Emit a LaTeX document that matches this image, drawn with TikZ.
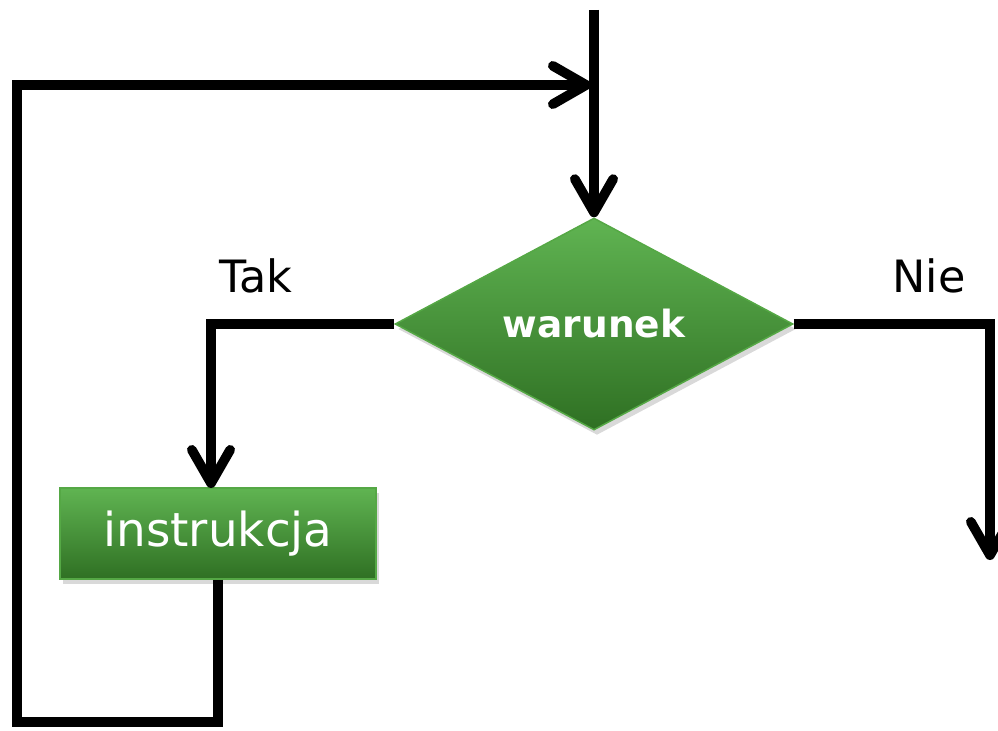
\documentclass[tikz,border=0pt]{standalone}
\usepackage{fontspec}
\setmainfont{DejaVu Sans}
\usetikzlibrary{shapes.geometric,arrows.meta,shadows}

\definecolor{boxtop}{HTML}{60B452}
\definecolor{boxbot}{HTML}{2F7023}
\definecolor{boxline}{HTML}{55A845}

\tikzset{
  flow/.style={line width=0.29cm, line join=miter, -{Straight Barb[length=1.0cm,width=1.15cm,round]}},
  greenbox/.style={draw=boxline, line width=0.045cm, top color=boxtop, bottom color=boxbot,
    text=white, drop shadow={opacity=0.3, shadow xshift=0.09cm, shadow yshift=-0.15cm}},
  decision/.style={greenbox, diamond, aspect=2, inner sep=1pt,
    minimum width=11.94cm, minimum height=6.36cm,
    font=\fontsize{32}{38}\selectfont\bfseries},
  action/.style={greenbox, rectangle, minimum width=9.48cm, minimum height=2.73cm,
    font=\fontsize{40}{48}\selectfont},
  answer/.style={font=\fontsize{38}{46}\selectfont}
}

\begin{document}
\begin{tikzpicture}[x=0.03cm,y=-0.03cm]
    \useasboundingbox (0,0) rectangle (998,731);

    \node[decision] (cond) at (594,324) {warunek};
    \node[action] (instr) at (218,533.5) {instrukcja};
    \node[answer] (yes) at (256,276) {Tak};
    \node[answer] (no) at (929,276) {Nie};

    \coordinate (start) at (594,10);
    \coordinate (join) at (591,85);
    \coordinate (tin) at (211,488);
    \coordinate (out) at (990,560);

    % main entry
    \draw[flow] (start) -- (cond.north);
    % Tak branch
    \draw[flow] (cond.west) -| (tin);
    % Nie branch
    \draw[flow] (cond.east) -| (out);
    % back loop
    \draw[flow] (instr.south) |- (17,722) |- (join);
  \end{tikzpicture}
\end{document}
